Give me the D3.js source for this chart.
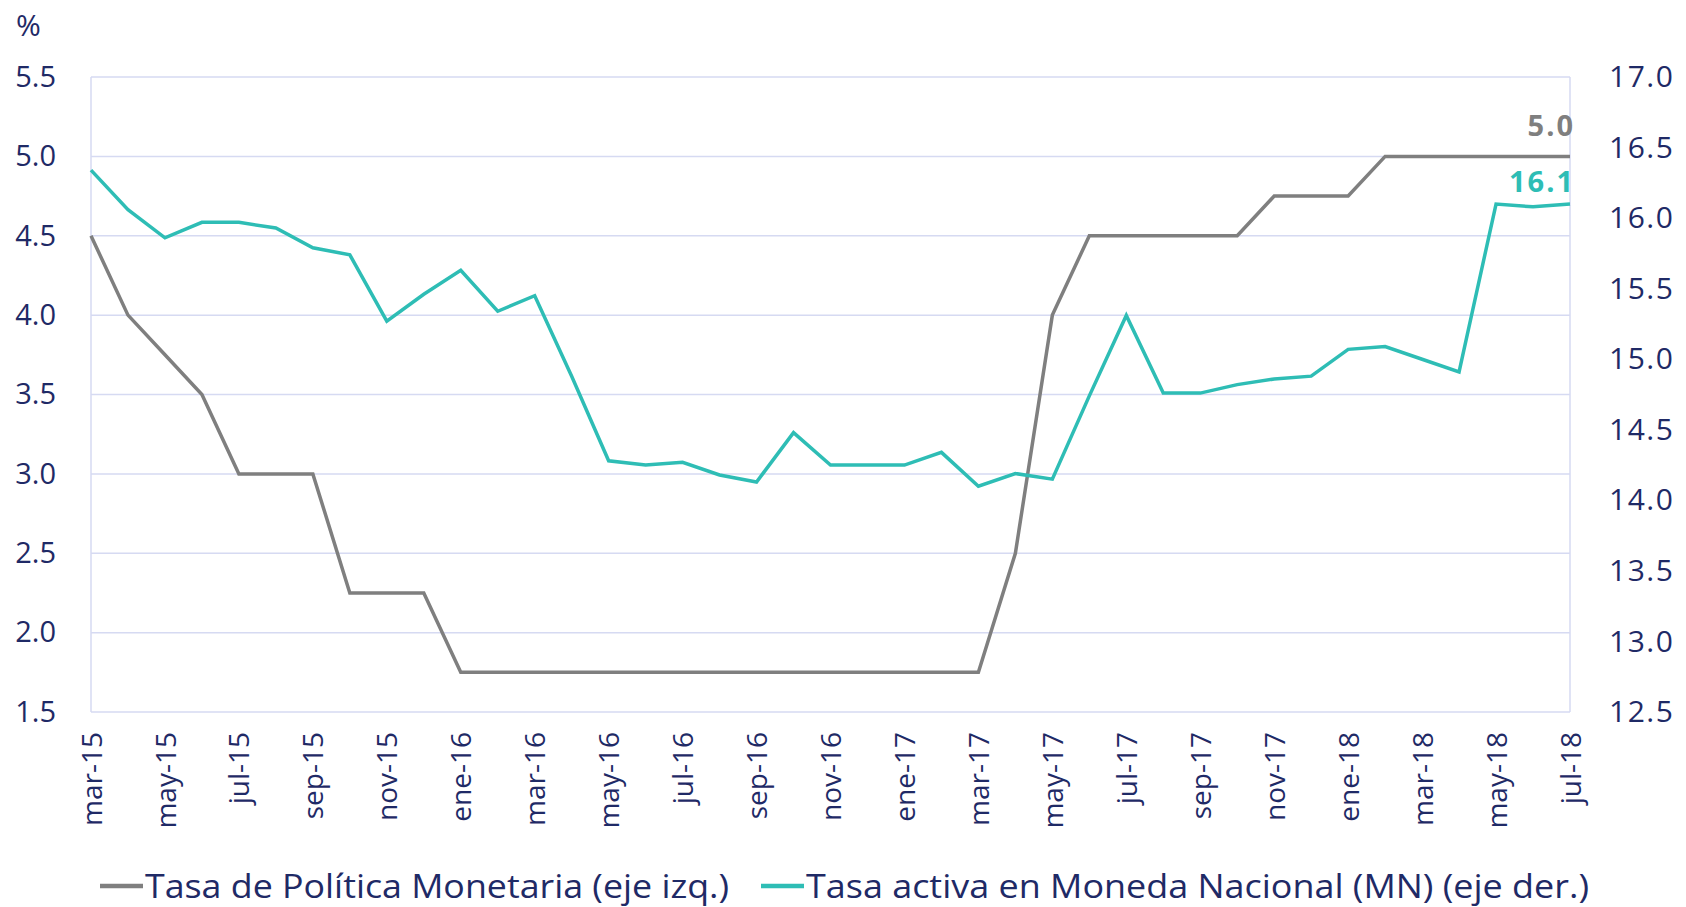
<!DOCTYPE html>
<html>
<head>
<meta charset="utf-8">
<script src="https://cdn.jsdelivr.net/npm/d3@7"></script>
<style>
  body { margin: 0; background: #fff; }
  text { font-family: "Open Sans", Lato, sans-serif; }
</style>
</head>
<body>
<div id="chart"></div>
<script>
// months mar-15 .. jul-18
const months = ["mar-15","abr-15","may-15","jun-15","jul-15","ago-15","sep-15","oct-15","nov-15","dic-15",
  "ene-16","feb-16","mar-16","abr-16","may-16","jun-16","jul-16","ago-16","sep-16","oct-16","nov-16","dic-16",
  "ene-17","feb-17","mar-17","abr-17","may-17","jun-17","jul-17","ago-17","sep-17","oct-17","nov-17","dic-17",
  "ene-18","feb-18","mar-18","abr-18","may-18","jun-18","jul-18"];

// Tasa de Politica Monetaria (left axis)
const tpm = [4.5,4.0,3.75,3.5,3.0,3.0,3.0,2.25,2.25,2.25,
  1.75,1.75,1.75,1.75,1.75,1.75,1.75,1.75,1.75,1.75,1.75,1.75,
  1.75,1.75,1.75,2.5,4.0,4.5,4.5,4.5,4.5,4.5,4.75,4.75,
  4.75,5.0,5.0,5.0,5.0,5.0,5.0];

// Tasa activa en MN (right axis)
const tasaMN = [16.34,16.06,15.86,15.97,15.97,15.93,15.79,15.74,15.27,15.46,
  15.63,15.34,15.45,14.88,14.28,14.25,14.27,14.18,14.13,14.48,14.25,14.25,
  14.25,14.34,14.10,14.19,14.15,14.74,15.31,14.76,14.76,14.82,14.86,14.88,
  15.07,15.09,15.0,14.91,16.1,16.08,16.1];

const leftTicks = [1.5,2.0,2.5,3.0,3.5,4.0,4.5,5.0,5.5];
const rightTicks = [12.5,13.0,13.5,14.0,14.5,15.0,15.5,16.0,16.5,17.0];
const xTickLabels = months.filter((d, i) => i % 2 === 0);

const W = 1686, H = 907;
const margin = { top: 77, right: 116, bottom: 195, left: 91 },
  width = W - margin.left - margin.right,
  height = H - margin.top - margin.bottom;

const navy = "#1f2a66", gray = "#7f7f7f", teal = "#2ebdb5", grid = "#d6daf2";

const svg = d3.select("#chart").append("svg")
  .attr("width", W).attr("height", H);
const g = svg.append("g").attr("transform", `translate(${margin.left},${margin.top})`);

const x = d3.scalePoint().domain(months).range([0, width]);
const yL = d3.scaleLinear().domain([1.5, 5.5]).range([height, 0]);
const yR = d3.scaleLinear().domain([12.5, 17.0]).range([height, 0]);

// gridlines
g.append("g")
  .selectAll("line")
  .data(leftTicks)
  .join("line")
  .attr("x1", 0).attr("x2", width)
  .attr("y1", d => yL(d)).attr("y2", d => yL(d))
  .attr("stroke", grid).attr("stroke-width", 1.5);

// left & right frame
g.append("line").attr("x1", 0).attr("x2", 0).attr("y1", 0).attr("y2", height)
  .attr("stroke", grid).attr("stroke-width", 1.5);
g.append("line").attr("x1", width).attr("x2", width).attr("y1", 0).attr("y2", height)
  .attr("stroke", grid).attr("stroke-width", 1.5);

// left axis
const axL = g.append("g")
  .call(d3.axisLeft(yL).tickValues(leftTicks).tickFormat(d3.format(".1f")).tickSize(0).tickPadding(35));
axL.select(".domain").remove();
axL.selectAll("text").attr("fill", navy).style("font-size", "29px");

// right axis
const axR = g.append("g").attr("transform", `translate(${width},0)`)
  .call(d3.axisRight(yR).tickValues(rightTicks).tickFormat(d3.format(".1f")).tickSize(0).tickPadding(39));
axR.select(".domain").remove();
axR.selectAll("text").attr("fill", navy).style("font-size", "30px").style("letter-spacing", "1.5px");

// bottom axis
const axB = g.append("g").attr("transform", `translate(0,${height})`)
  .call(d3.axisBottom(x).tickValues(xTickLabels).tickSize(0));
axB.select(".domain").remove();
axB.selectAll("text")
  .attr("fill", navy)
  .style("font-size", "28px")
  .attr("text-anchor", "end")
  .attr("transform", "rotate(-90)")
  .attr("x", -20)
  .attr("y", 0)
  .attr("dy", "0.36em");

// % label
svg.append("text").attr("x", 16).attr("y", 36).attr("fill", navy)
  .style("font-size", "30px").text("%");

// lines
const lineL = d3.line().x((d, i) => x(months[i])).y(d => yL(d));
const lineR = d3.line().x((d, i) => x(months[i])).y(d => yR(d));

g.append("path").datum(tpm).attr("d", lineL)
  .attr("fill", "none").attr("stroke", gray).attr("stroke-width", 3.5);
g.append("path").datum(tasaMN).attr("d", lineR)
  .attr("fill", "none").attr("stroke", teal).attr("stroke-width", 3.5);

// end labels
const last = months.length - 1;
g.append("text")
  .attr("x", x(months[last]) + 5).attr("y", yL(tpm[last]) - 20)
  .attr("text-anchor", "end").attr("fill", gray)
  .style("font-size", "29px").style("font-weight", "bold").style("letter-spacing", "2px")
  .text(d3.format(".1f")(tpm[last]));
g.append("text")
  .attr("x", x(months[last]) + 5).attr("y", yR(tasaMN[last]) - 12)
  .attr("text-anchor", "end").attr("fill", teal)
  .style("font-size", "29px").style("font-weight", "bold").style("letter-spacing", "2px")
  .text(d3.format(".1f")(tasaMN[last]));

// legend
const legend = [
  { label: "Tasa de Política Monetaria (eje izq.)", color: gray, x: 100, len: 584 },
  { label: "Tasa activa en Moneda Nacional (MN) (eje der.)", color: teal, x: 761, len: 783 }
];
const lg = svg.append("g").attr("transform", "translate(0,886)");
legend.forEach(d => {
  lg.append("line").attr("x1", d.x).attr("x2", d.x + 43).attr("y1", 0).attr("y2", 0)
    .attr("stroke", d.color).attr("stroke-width", 4.5);
  lg.append("text").attr("x", d.x + 45).attr("y", 0).attr("dy", "0.36em")
    .attr("fill", navy).style("font-size", "32px")
    .attr("textLength", d.len).attr("lengthAdjust", "spacingAndGlyphs")
    .text(d.label);
});
</script>
</body>
</html>
